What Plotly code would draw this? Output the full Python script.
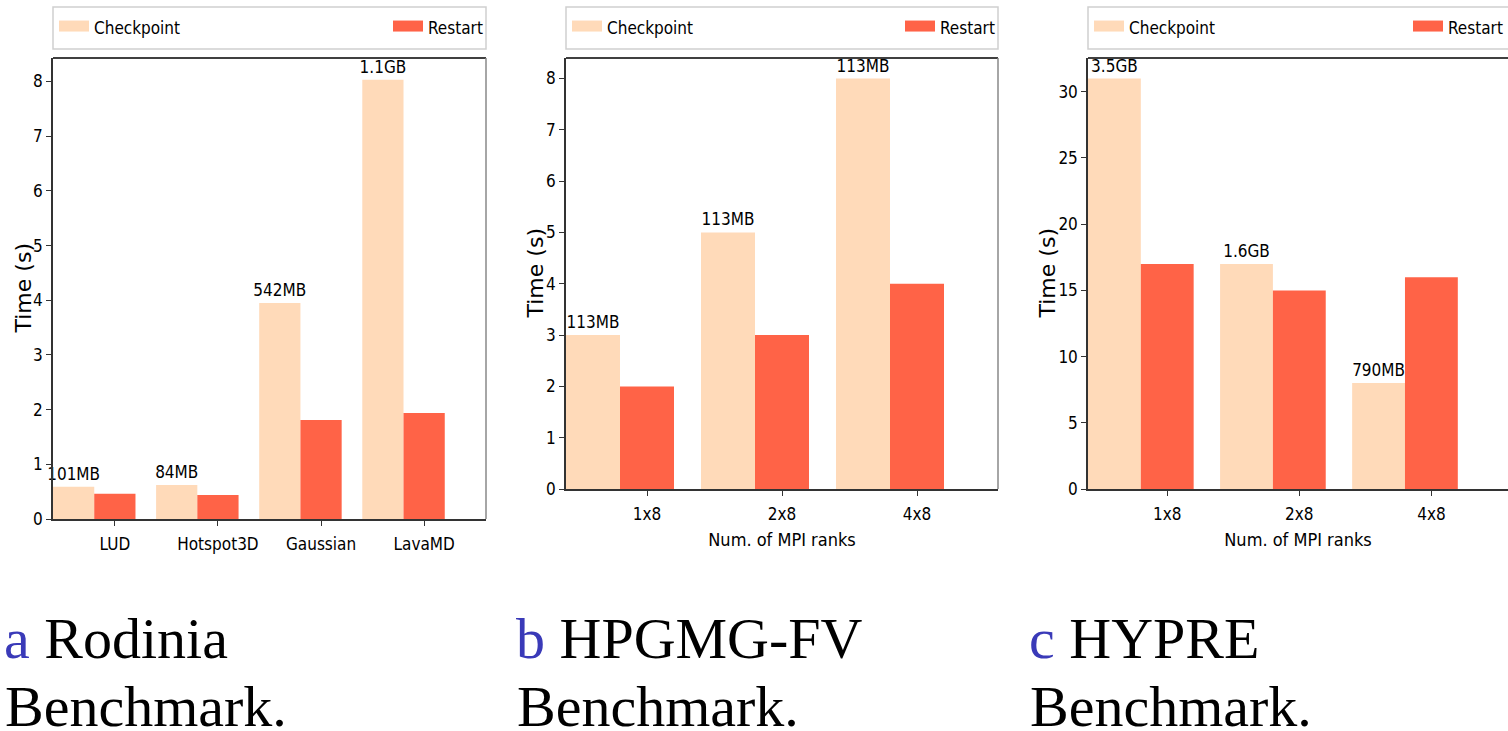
import plotly.graph_objects as go

# ---------------- data ----------------
rodinia_apps = ["LUD", "Hotspot3D", "Gaussian", "LavaMD"]
rodinia_checkpoint = [0.59, 0.62, 3.95, 8.03]
rodinia_restart = [0.46, 0.44, 1.81, 1.94]
rodinia_sizes = ["101MB", "84MB", "542MB", "1.1GB"]

mpi_ranks = ["1x8", "2x8", "4x8"]
hpgmg_checkpoint = [3, 5, 8]
hpgmg_restart = [2, 3, 4]
hpgmg_sizes = ["113MB", "113MB", "113MB"]

hypre_checkpoint = [31, 17, 8]
hypre_restart = [17, 15, 16]
hypre_sizes = ["3.5GB", "1.6GB", "790MB"]

captions = [
    ("a", "Rodinia", "Benchmark."),
    ("b", "HPGMG-FV", "Benchmark."),
    ("c", "HYPRE", "Benchmark."),
]

# ---------------- style ----------------
W, H = 1508, 731
C_CKPT = "#FFDAB9"
C_RST = "#FF6347"
NARROW = "DejaVu Sans Condensed, Liberation Sans Narrow, DejaVu Sans, sans-serif"
WIDE = "DejaVu Sans, sans-serif"
SERIF = "Liberation Serif, Times New Roman, serif"
BW = 0.4
TXT = 17

panels = [
    dict(cats=rodinia_apps, ck=rodinia_checkpoint, rs=rodinia_restart, lab=rodinia_sizes,
         px=(53, 486), py=(58, 519), yr=[0, 8.43], dt=1, xr=[-0.6, 3.6], xtitle=None,
         right=True, ytx=23),
    dict(cats=mpi_ranks, ck=hpgmg_checkpoint, rs=hpgmg_restart, lab=hpgmg_sizes,
         px=(566, 998), py=(58, 489), yr=[0, 8.4], dt=1, xr=[-0.6, 2.6],
         xtitle="Num. of MPI ranks", right=True, ytx=535),
    dict(cats=mpi_ranks, ck=hypre_checkpoint, rs=hypre_restart, lab=hypre_sizes,
         px=(1088, 1508), py=(58, 489), yr=[0, 32.55], dt=5, xr=[-0.6, 2.58],
         xtitle="Num. of MPI ranks", right=False, ytx=1047),
]
caption_x = [2, 514, 1027]
LEG_TOP, LEG_BOT = 7, 49

fig = go.Figure()
shapes = []
annotations = []
legends = {}

for i, p in enumerate(panels):
    sfx = "" if i == 0 else str(i + 1)
    xa, ya = "x" + sfx, "y" + sfx
    leg_ck = "legend" if i == 0 else "legend" + str(2 * i + 1)
    leg_rs = "legend" + str(2 * i + 2)
    idx = list(range(len(p["cats"])))

    fig.add_trace(go.Bar(
        x=[k - BW for k in idx], y=p["ck"], width=BW, name="Checkpoint",
        marker=dict(color=C_CKPT, line=dict(width=0)),
        text=p["lab"], textposition="outside", constraintext="none", cliponaxis=False,
        textfont=dict(family=NARROW, size=TXT, color="black"),
        xaxis=xa, yaxis=ya, showlegend=False, hoverinfo="skip"))
    fig.add_trace(go.Bar(
        x=idx, y=p["rs"], width=BW, name="Restart",
        marker=dict(color=C_RST, line=dict(width=0)),
        xaxis=xa, yaxis=ya, showlegend=False, hoverinfo="skip"))
    # legend entries (patch-like icons)
    for nm, col, lg in (("Checkpoint", C_CKPT, leg_ck), ("Restart", C_RST, leg_rs)):
        fig.add_trace(go.Scatter(
            x=[None], y=[None], mode="lines", fill="toself", fillcolor=col,
            line=dict(color=col, width=10), name=nm, legend=lg, showlegend=True,
            xaxis=xa, yaxis=ya, hoverinfo="skip"))

    x0, x1 = p["px"][0] / W, min(p["px"][1] / W, 1.0)
    y0, y1 = 1 - p["py"][1] / H, 1 - p["py"][0] / H
    axis_common = dict(showline=True, linecolor="#333", linewidth=1.5, ticks="outside",
                       ticklen=5, tickcolor="#333", showgrid=False, zeroline=False,
                       tickfont=dict(family=NARROW, size=TXT, color="black"))
    xkw = dict(domain=[x0, x1], range=p["xr"], anchor=ya, tickmode="array",
               tickvals=idx, ticktext=p["cats"], tickangle=0, ticklabelstandoff=4,
               **axis_common)
    if p["xtitle"]:
        xkw["title"] = dict(text=p["xtitle"], font=dict(family=NARROW, size=18, color="black"),
                            standoff=10)
    ykw = dict(domain=[y0, y1], range=p["yr"], anchor=xa, dtick=p["dt"], **axis_common)
    fig.update_layout(**{"xaxis" + sfx: xkw, "yaxis" + sfx: ykw})

    # y-axis title
    annotations.append(dict(
        text="Time (s)", textangle=-90, xref="paper", yref="paper",
        x=p["ytx"] / W, y=(y0 + y1) / 2, xanchor="center", yanchor="middle", showarrow=False,
        font=dict(family=WIDE, size=22, color="black")))

    # frame: top (black) and right (grey)
    shapes.append(dict(type="line", xref=xa + " domain", yref=ya + " domain",
                       x0=0, x1=1, y0=1, y1=1, line=dict(color="black", width=1.5)))
    if p["right"]:
        shapes.append(dict(type="line", xref=xa + " domain", yref=ya + " domain",
                           x0=1, x1=1, y0=0, y1=1, line=dict(color="#888", width=1.5)))

    # legend frame
    shapes.append(dict(type="rect", xref="paper", yref="paper",
                       x0=p["px"][0] / W, x1=(p["px"][1] + (6 if not p["right"] else 0)) / W,
                       y0=1 - LEG_BOT / H, y1=1 - LEG_TOP / H,
                       line=dict(color="#d0d0d0", width=1.5), fillcolor="white", layer="below"))
    leg_common = dict(orientation="h", y=1 - 28 / H, yanchor="middle", xref="paper",
                      yref="paper", bgcolor="rgba(0,0,0,0)", borderwidth=0,
                      font=dict(family=NARROW, size=TXT, color="black"))
    legends[leg_ck] = dict(x=(p["px"][0] + 1) / W, xanchor="left", **leg_common)
    legends[leg_rs] = dict(x=min(p["px"][1] + 2, W) / W, xanchor="right", **leg_common)

    # captions
    letter, word, line2 = captions[i]
    annotations.append(dict(
        text=f"<span style='color:#3a3ab8'>{letter}</span> {word}", xref="paper", yref="paper",
        x=caption_x[i] / W, y=1 - 638 / H, xanchor="left", yanchor="middle", showarrow=False,
        font=dict(family=SERIF, size=58, color="black")))
    annotations.append(dict(
        text=line2, xref="paper", yref="paper",
        x=(caption_x[i] + 1) / W, y=1 - 706 / H, xanchor="left", yanchor="middle",
        showarrow=False, font=dict(family=SERIF, size=58, color="black")))

fig.update_layout(
    width=W, height=H, margin=dict(l=0, r=0, t=0, b=0, autoexpand=False),
    paper_bgcolor="white", plot_bgcolor="white", barmode="overlay",
    shapes=shapes, annotations=annotations, **legends,
)

fig.write_html(
    "out.html", config={"displayModeBar": False},
    post_script="document.documentElement.style.margin='0';document.body.style.margin='0';"
                "document.documentElement.style.overflow='hidden';document.body.style.overflow='hidden';")
